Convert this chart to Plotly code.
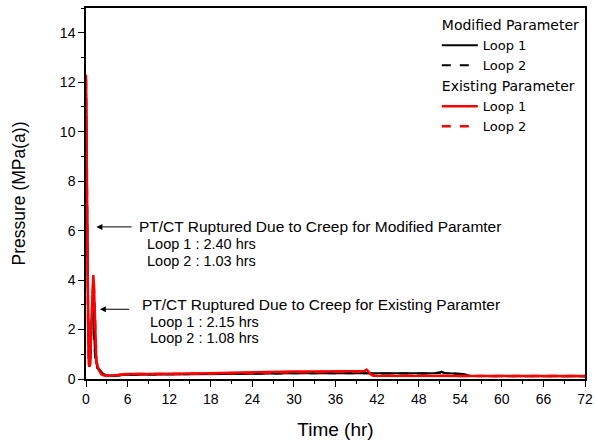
import plotly.graph_objects as go

# ---------------- data ----------------
# Modified Parameter, Loop 1 (black solid)
mod_l1_t = [0, 0.1, 0.2, 0.3, 0.45, 0.6, 0.8, 0.95, 1.1, 1.3, 1.6, 2.0, 2.5, 3, 4, 6, 9, 12, 15, 18, 21, 24, 27, 30, 33, 36, 39, 40.5, 41, 45, 50, 51, 51.3, 51.7, 53, 54.5, 55.5, 60, 66, 72]
mod_l1_v = [12.0, 7.0, 5.5, 3.0, 0.5, 0.6, 2.8, 3.4, 2.5, 1.0, 0.5, 0.35, 0.2, 0.15, 0.13, 0.17, 0.18, 0.19, 0.2, 0.21, 0.22, 0.22, 0.23, 0.23, 0.23, 0.23, 0.24, 0.24, 0.23, 0.22, 0.22, 0.23, 0.3, 0.24, 0.22, 0.2, 0.12, 0.11, 0.11, 0.11]
# Modified Parameter, Loop 2 (black dashed)
mod_l2_t = [0, 0.1, 0.2, 0.3, 0.45, 0.6, 0.8, 0.95, 1.1, 1.3, 1.6, 2.0, 2.5, 3, 4, 6, 12, 18, 24, 30, 36, 40, 41, 45, 50, 51.3, 52, 54.5, 55.5, 60, 66, 72]
mod_l2_v = [11.8, 6.8, 5.3, 2.8, 0.5, 0.6, 2.6, 3.2, 2.3, 0.9, 0.45, 0.3, 0.2, 0.15, 0.13, 0.17, 0.19, 0.21, 0.22, 0.23, 0.23, 0.24, 0.23, 0.22, 0.22, 0.28, 0.23, 0.2, 0.12, 0.11, 0.11, 0.11]
# Existing Parameter, Loop 1 (red solid)
ex_l1_t = [0, 0.05, 0.12, 0.2, 0.3, 0.4, 0.55, 0.75, 0.95, 1.05, 1.15, 1.3, 1.5, 1.8, 2.2, 2.6, 3.0, 4, 6, 9, 12, 15, 18, 21, 24, 27, 30, 33, 36, 39, 40.2, 40.5, 41.0, 41.5, 44, 50, 56, 62, 68, 72]
ex_l1_v = [12.3, 9.5, 6.0, 5.8, 2.5, 0.6, 0.5, 2.0, 3.9, 4.2, 3.8, 2.0, 0.7, 0.4, 0.2, 0.15, 0.13, 0.14, 0.2, 0.2, 0.2, 0.22, 0.23, 0.25, 0.27, 0.28, 0.3, 0.3, 0.3, 0.3, 0.32, 0.38, 0.22, 0.13, 0.13, 0.12, 0.12, 0.12, 0.12, 0.12]
# Existing Parameter, Loop 2 (red dashed)
ex_l2_t = [0, 0.05, 0.12, 0.2, 0.3, 0.4, 0.55, 0.75, 0.95, 1.05, 1.15, 1.3, 1.5, 1.8, 2.2, 2.6, 3.0, 4, 6, 12, 18, 24, 30, 36, 40, 40.4, 41.0, 41.5, 44, 50, 56, 62, 68, 72]
ex_l2_v = [12.1, 9.2, 5.9, 5.6, 2.4, 0.6, 0.5, 1.9, 3.7, 4.0, 3.6, 1.9, 0.7, 0.4, 0.2, 0.15, 0.13, 0.14, 0.2, 0.2, 0.23, 0.26, 0.29, 0.29, 0.3, 0.35, 0.2, 0.13, 0.13, 0.12, 0.12, 0.12, 0.12, 0.12]

x_ticks = [0, 6, 12, 18, 24, 30, 36, 42, 48, 54, 60, 66, 72]
y_ticks = [0, 2, 4, 6, 8, 10, 12, 14]

FONT = "Liberation Sans, Arial, sans-serif"
LEG_FONT = "DejaVu Sans, sans-serif"

fig = go.Figure()

# draw order: black dashed, black solid, red dashed, red solid; legend order via legendrank
fig.add_trace(go.Scatter(x=mod_l2_t, y=mod_l2_v, mode="lines", name="Loop 2",
                         line=dict(color="black", width=2, dash="dash"),
                         legendgroup="mod", legendrank=2))
fig.add_trace(go.Scatter(x=mod_l1_t, y=mod_l1_v, mode="lines", name="Loop 1",
                         line=dict(color="black", width=2),
                         legendgroup="mod", legendrank=1,
                         legendgrouptitle=dict(text="Modified Parameter", font=dict(size=14, family=LEG_FONT, color="black"))))
fig.add_trace(go.Scatter(x=ex_l2_t, y=ex_l2_v, mode="lines", name="Loop 2",
                         line=dict(color="#ff0000", width=2.5, dash="dash"),
                         legendgroup="ex", legendrank=4))
fig.add_trace(go.Scatter(x=ex_l1_t, y=ex_l1_v, mode="lines", name="Loop 1",
                         line=dict(color="#ff0000", width=2.5),
                         legendgroup="ex", legendrank=3,
                         legendgrouptitle=dict(text="Existing Parameter", font=dict(size=14, family=LEG_FONT, color="black"))))

title_font = dict(size=15.5, family=FONT, color="black")
ann_font = dict(size=14.5, family=FONT, color="black")
annotations = [
    dict(x=7.36, y=6.15, text="PT/CT Ruptured Due to Creep for Modified Paramter", xanchor="left", font=title_font),
    dict(x=8.51, y=5.46, text="Loop 1 : 2.40 hrs", xanchor="left", font=ann_font),
    dict(x=8.51, y=4.77, text="Loop 2 : 1.03 hrs", xanchor="left", font=ann_font),
    dict(x=7.79, y=3.03, text="PT/CT Ruptured Due to Creep for Existing Paramter", xanchor="left", font=title_font),
    dict(x=8.9, y=2.30, text="Loop 1 : 2.15 hrs", xanchor="left", font=ann_font),
    dict(x=8.9, y=1.66, text="Loop 2 : 1.08 hrs", xanchor="left", font=ann_font),
]
for a in annotations:
    fig.add_annotation(xref="x", yref="y", showarrow=False, yanchor="middle", **a)

# arrows
fig.add_annotation(x=1.5, y=6.15, ax=6.8, ay=6.15, xref="x", yref="y", axref="x", ayref="y",
                   text="", showarrow=True, arrowhead=2, arrowsize=1.2, arrowwidth=1, arrowcolor="black")
fig.add_annotation(x=2.0, y=2.82, ax=6.45, ay=2.82, xref="x", yref="y", axref="x", ayref="y",
                   text="", showarrow=True, arrowhead=2, arrowsize=1.2, arrowwidth=1, arrowcolor="black")

axis_common = dict(showgrid=False, zeroline=False, showline=True, linecolor="black", linewidth=1.5,
                   mirror=True, ticks="outside", ticklen=6, tickwidth=1.2, tickcolor="black",
                   automargin=False,
                   tickfont=dict(size=14, family=FONT, color="black"))

fig.update_xaxes(range=[0, 72], tickvals=x_ticks, ticktext=[str(v) for v in x_ticks],
                 minor=dict(ticks="outside", ticklen=3, tickwidth=1, tickcolor="black", dtick=3, tick0=0),
                 title=dict(text="Time (hr)", font=dict(size=19, family=FONT, color="black"), standoff=17),
                 **axis_common)
fig.update_yaxes(range=[0, 15], tickvals=y_ticks, ticktext=[str(v) for v in y_ticks],
                 minor=dict(ticks="outside", ticklen=3, tickwidth=1, tickcolor="black", dtick=1, tick0=0),
                 title=dict(text="Pressure (MPa(a))", font=dict(size=17.5, family=FONT, color="black"), standoff=30),
                 **axis_common)

fig.update_layout(
    width=596, height=441,
    margin=dict(l=86, r=11, t=8, b=62, autoexpand=False),
    plot_bgcolor="white", paper_bgcolor="white",
    font=dict(family=FONT, color="black"),
    legend=dict(x=0.703, y=0.997, xanchor="left", yanchor="top",
                bgcolor="rgba(0,0,0,0)", borderwidth=0,
                font=dict(size=13, family=LEG_FONT, color="black"),
                tracegroupgap=0, itemwidth=36, traceorder="grouped"),
)

fig.write_html("out.html")
